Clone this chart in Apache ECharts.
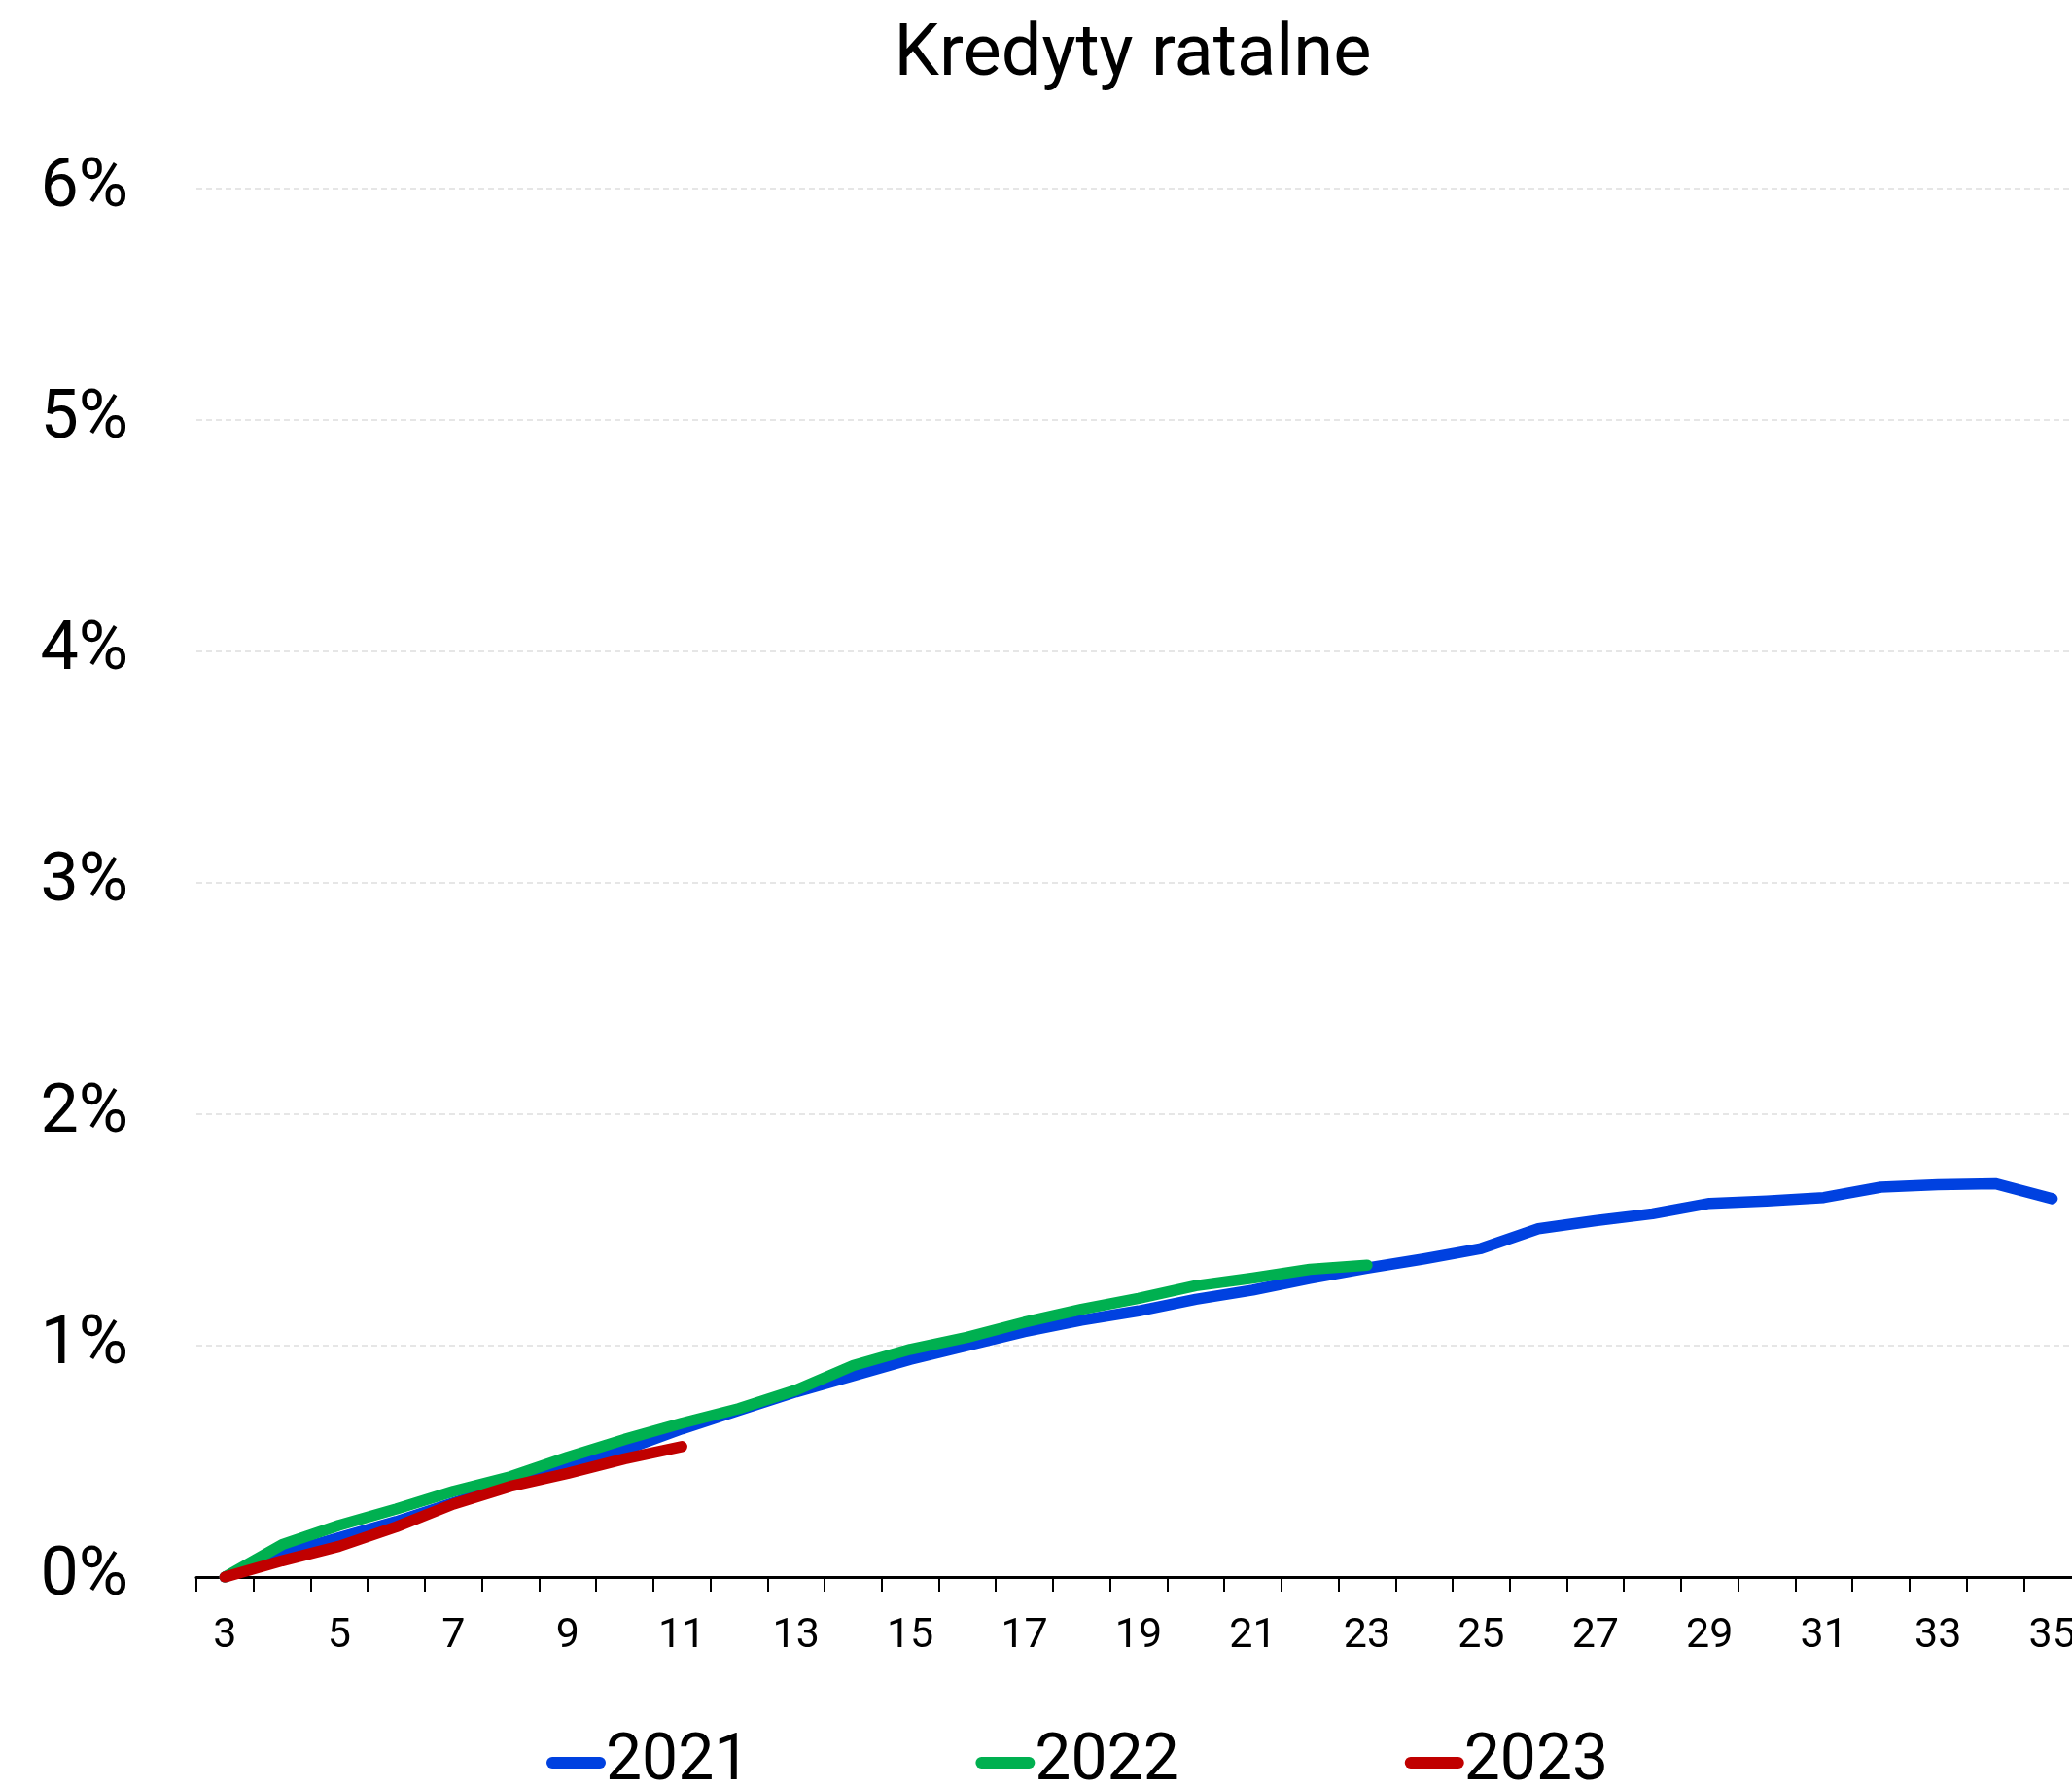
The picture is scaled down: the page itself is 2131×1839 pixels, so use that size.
<!DOCTYPE html>
<html>
<head>
<meta charset="utf-8">
<script src="https://cdn.jsdelivr.net/npm/echarts@6/dist/echarts.min.js"></script>
<style>
html,body{margin:0;padding:0;background:#fff;}
#c{width:2131px;height:1839px;}
</style>
</head>
<body>
<div id="c"></div>
<script>
const categories = ['3','4','5','6','7','8','9','10','11','12','13','14','15','16','17','18','19','20','21','22','23','24','25','26','27','28','29','30','31','32','33','34','35'];
const s2021 = [0, 0.10, 0.17, 0.24, 0.32, 0.40, 0.47, 0.55, 0.64, 0.72, 0.80, 0.87, 0.94, 1.00, 1.06, 1.11, 1.15, 1.20, 1.24, 1.29, 1.335, 1.375, 1.42, 1.505, 1.54, 1.57, 1.615, 1.625, 1.64, 1.685, 1.695, 1.70, 1.635];
const s2022 = [0, 0.14, 0.224, 0.294, 0.371, 0.434, 0.518, 0.595, 0.665, 0.728, 0.808, 0.914, 0.984, 1.036, 1.101, 1.157, 1.204, 1.259, 1.292, 1.330, 1.348];
const s2023 = [0, 0.07, 0.133, 0.217, 0.315, 0.392, 0.448, 0.511, 0.564];
const yTicks = [0, 1, 2, 3, 4, 5, 6];
const seriesNames = ['2021', '2022', '2023'];
const colors = ['#0041E0', '#00B050', '#C00000'];

const FONT = 'Roboto';
const chart = echarts.init(document.getElementById('c'), null, {renderer: 'canvas'});
const capsule = 'path://M6,0 H55 A6,6 0 0 1 55,12 H6 A6,6 0 0 1 6,0 Z';
function mkSeries(name, data, color) {
  return {
    name: name, type: 'line', data: data, showSymbol: false, symbol: 'none',
    lineStyle: {color: color, width: 11.5, cap: 'round', join: 'round'},
    itemStyle: {color: color},
    animation: false
  };
}
chart.setOption({
  animation: false,
  backgroundColor: '#ffffff',
  title: {
    text: 'Kredyty ratalne',
    left: 1160, top: 16, textAlign: 'center',
    textStyle: {fontFamily: FONT, fontSize: 74, fontWeight: 'normal', color: '#000'}
  },
  grid: {left: 202, width: 1938, top: 194, bottom: 217, containLabel: false, outerBoundsMode: 'none'},
  xAxis: {
    type: 'category', data: categories, boundaryGap: true,
    axisLine: {show: true, lineStyle: {color: '#000', width: 3}},
    axisTick: {show: true, interval: 0, length: 15, lineStyle: {color: '#000', width: 2}},
    axisLabel: {interval: 1, margin: 40, fontFamily: FONT, fontSize: 43, color: '#000'},
    splitLine: {show: false}
  },
  yAxis: {
    type: 'value', min: yTicks[0], max: yTicks[yTicks.length - 1], interval: 1,
    axisLine: {show: false}, axisTick: {show: false},
    axisLabel: {formatter: '{value}%', margin: 70, fontFamily: FONT, fontSize: 70, color: '#000'},
    splitLine: {show: true, lineStyle: {color: '#e6e6e6', width: 2, type: [6, 4]}}
  },
  legend: {
    data: seriesNames, left: 557, top: 1775, itemGap: 232,
    icon: capsule, itemWidth: 61, itemHeight: 12,
    textStyle: {fontFamily: FONT, fontSize: 66, color: '#000', padding: [0,0,0,-5]}
  },
  series: [
    mkSeries(seriesNames[0], s2021, colors[0]),
    mkSeries(seriesNames[1], s2022, colors[1]),
    mkSeries(seriesNames[2], s2023, colors[2])
  ]
});
</script>
</body>
</html>
